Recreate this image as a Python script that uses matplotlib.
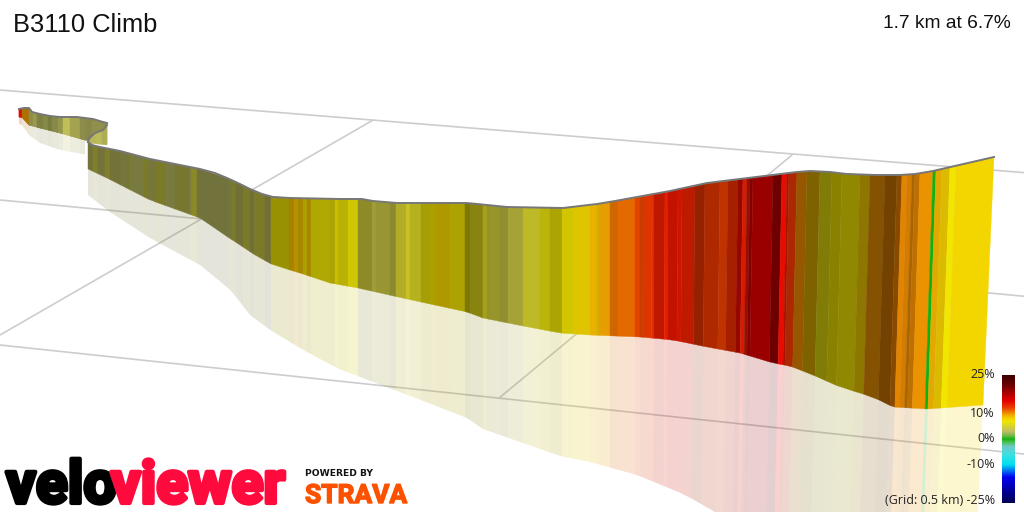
import numpy as np
import matplotlib
matplotlib.use("Agg")
import matplotlib.pyplot as plt
from matplotlib.colors import LinearSegmentedColormap
from matplotlib.collections import PolyCollection
import matplotlib.patheffects as pe

TITLE = "B3110 Climb"
SUMMARY = "1.7 km at 6.7%"
GRID_NOTE = "(Grid: 0.5 km)"
LEGEND_TICKS = [25, 10, 0, -10, -25]

# colour scale: gradient (%) -> colour
scale_pct = [-25, -20, -15, -10, -6, -3, -1, 0, 1, 3, 5, 7, 8.5, 10, 12, 15, 18, 21, 25]
scale_col = ["#000050", "#0000a0", "#0000f0", "#00e0f0", "#40e0e0", "#70c8c8", "#40c040",
             "#10b010", "#60b840", "#bebe64", "#d7d232", "#f0e600", "#f5c800", "#f09600",
             "#eb4600", "#e60000", "#aa0000", "#6e0000", "#3c0000"]

# outlines
far_top_x = [19, 24, 29, 32, 40, 50, 60, 77, 93, 103, 107]
far_top_y = [109, 108, 108, 112, 114, 116, 117, 117, 119, 122, 123]
far_bot_x = [19, 28, 29, 40, 60, 88, 107]
far_bot_y = [117, 118, 125, 128, 133, 141, 144]
far_ref_x = [19, 28, 29, 40, 60, 88]
far_ref_y = [124, 127, 135, 143, 150, 155]
far_edges = [19, 22, 29, 33, 37, 40, 43, 48, 52, 58, 63, 70, 80, 85, 92, 100, 107]
far_grad = [14, 9.8, 3, 3.2, 3, 2.8, 3, 2.8, 3, 3.1, 3.4, 3.2, 3, 3, 3, 3]
far_shade = [.9, .72, .75, .8, .68, .68, .72, .66, .72, .78, .98, .85, .74, .72, .76, .76]

ret_top_x = [88, 89, 95, 103, 107]
ret_top_y = [142, 138, 133, 130, 125]
ret_bot_x = [88, 107]
ret_bot_y = [143, 145]
ret_edges = [88, 96, 102, 107]
ret_grad = [3.2, 3.3, 3.2]
ret_shade = [.95, .97, .9]

main_top_x = [88, 92, 100, 120, 150, 200, 215, 227, 240, 250, 262, 273, 290, 340, 362, 373, 397, 467, 507,
              563, 580, 597, 615, 637, 670, 707, 797, 810, 830, 847, 875, 900, 915, 933, 994]
main_top_y = [142, 145, 147, 151, 159, 169, 173, 178, 184, 189, 194, 197, 198, 199, 199, 201, 203, 203, 207,
              208, 206, 204, 201, 197, 191, 183, 172, 171, 172, 174, 175, 175, 174, 171, 157]
main_bot_x = [88, 107, 150, 200, 217, 237, 255, 273, 300, 330, 358, 407, 467, 483, 523, 560, 590, 640, 673,
              707, 740, 773, 790, 813, 840, 873, 893, 927, 983]
main_bot_y = [169, 178, 200, 218, 230, 243, 255, 265, 273, 283, 288, 299, 312, 318, 326, 333, 335, 337, 340,
              347, 353, 363, 366, 375, 387, 397, 407, 409, 405]
main_ref_x = [88, 110, 150, 200, 220, 233, 250, 273, 307, 337, 373, 413, 467, 483, 520, 560, 590, 637, 687,
              717, 800, 1000]
main_ref_y = [195, 212, 238, 265, 280, 293, 315, 332, 352, 368, 382, 397, 418, 429, 442, 456, 462, 475, 495,
              512, 550, 630]
tilt_x = [640, 934, 994]
tilt_v = [0, 8, 11]

main_edges = [88, 93, 98, 105, 110, 121, 127, 130, 144, 148, 156, 165, 175, 190, 192, 197, 201, 228, 232,
              236, 243, 250, 254, 265, 271, 289, 294, 298, 303, 307, 311, 318, 330, 335, 338, 348, 358,
              372, 376, 390, 396, 406, 410, 421, 430, 436, 450, 465, 470, 483, 487, 490, 500, 508, 523,
              540, 550, 562, 573, 590, 597, 600, 610, 618, 635, 640, 643, 652, 654, 665, 668, 678, 682,
              695, 705, 720, 728, 738, 743, 747, 750, 753, 773, 782, 787, 789, 797, 807, 820, 832, 842,
              860, 870, 885, 897, 902, 907, 912, 915, 920, 933, 936, 942, 950, 956, 994]
main_grad = [3.2, 4.2, 3.2, 4.2, 3.2, 3, 3.8, 3, 4.2, 3.2, 4.2, 3, 3.8, 3, 4.6, 3.2, 3, 3, 4.2,
             3.2, 4.2, 3.2, 4.2, 3.2, 6.8, 8.7, 8.7, 8.5, 7.5, 8.5, 7, 6.8, 6.8, 7, 6.8, 6.8, 4.6,
             4, 4.2, 4.2, 5, 5.5, 5.5, 6.5, 7.5, 8, 7.2, 6.5, 6, 5.5, 5, 4.5, 4.2, 4.2, 5.2,
             6.5, 6.8, 7.2, 7.8, 8.8, 8.6, 9.5, 10.8, 11, 12, 12, 12.5, 13, 13.7, 13.7, 14, 14, 13.6,
             12.7, 12.6, 12.3, 13, 14.5, 13.7, 14, 15, 15, 15, 14.5, 14, 12.6, 10.3, 8.8, 6.5, 7.2, 7.2,
             8.3, 10, 10.3, 10.5, 10.2, 10.2, 10.2, 10.2, 10, 0, 9, 8.2, 7, 7.8]
main_shade = [.6, .62, .6, .62, .6, .62, .6, .64, .6, .62, .6, .64, .6, .68, .66, .6, .6, .62, .6,
              .58, .6, .58, .6, .58, .64, .68, .75, .68, .72, .68, .73, .74, .72, .83, .78, .87, .67,
              .78, .74, .68, .82, .9, .82, .7, .72, .72, .72, .53, .6, .75, .7, .72, .7, .8, .87,
              .8, .72, .87, .92, .95, .88, .95, .87, .96, .96, .85, .94, 1, .82, 1, .84, .9, .82,
              .64, .75, .81, .71, .65, .92, .65, .57, .67, .48, 1, .73, .73, .63, .52, .55, .57, .6,
              .58, .55, .48, .57, .94, .88, .71, .79, .98, 1, .93, .9, 1, 1]

GRID = "#cdcdd0"
OUT = "#777777"

cmap = LinearSegmentedColormap.from_list(
    "grad", [((p + 25) / 50, c) for p, c in zip(scale_pct, scale_col)], N=512)
to_col = lambda g, s: tuple(np.array(cmap((g + 25) / 50)[:3]) * min(s, 1))

plt.rcParams["font.family"] = ["Liberation Sans", "DejaVu Sans"]
fig = plt.figure(figsize=(10.24, 5.12), dpi=100)
ax = fig.add_axes([0, 0, 1, 1])
ax.set_xlim(0, 1024)
ax.set_ylim(512, 0)
ax.axis("off")

# ground grid
L1 = lambda x: 90 + 0.0807 * x
L2 = lambda x: 200 + 0.094 * x
L3 = lambda x: 345 + 0.1065 * x
for L in (L1, L2, L3):
    ax.plot([0, 1024], [L(0), L(1024)], color=GRID, lw=1.2, zorder=1)
ax.plot([0, 373], [335, L1(373)], color=GRID, lw=1.2, zorder=1)
ax.plot([499, 792], [L3(499), 155], color=GRID, lw=1.2, zorder=1)


def wall(edges, grad, shade, tx, ty, bx, by, rx=None, ry=None, tilt=False, z=2):
    e = np.array(edges, float)
    k = np.interp(e, tilt_x, tilt_v) if tilt else np.zeros_like(e)
    yt = np.interp(e, tx, ty)
    xb = e - k
    yb = np.interp(xb, bx, by)
    cols = [to_col(g, s) for g, s in zip(grad, shade)]
    if rx is not None:
        slope = k / np.maximum(yb - yt, 1) * 1.1
        yr = np.interp(xb, rx, ry)
        xr = xb - slope * (yr - yb)
        polys = [[(xb[i], yb[i]), (xb[i + 1], yb[i + 1]), (xr[i + 1], yr[i + 1]), (xr[i], yr[i])]
                 for i in range(len(cols))]
        ax.add_collection(PolyCollection(polys, facecolors=[c + (0.19,) for c in cols],
                                         edgecolors="none", zorder=z))
    polys = [[(e[i], yt[i]), (e[i + 1], yt[i + 1]), (xb[i + 1], yb[i + 1]), (xb[i], yb[i])]
             for i in range(len(cols))]
    ax.add_collection(PolyCollection(polys, facecolors=cols, edgecolors=cols, linewidths=0.3, zorder=z + 0.1))


wall(far_edges, far_grad, far_shade, far_top_x, far_top_y, far_bot_x, far_bot_y)
wall(far_edges[:-3], far_grad[:-3], far_shade[:-3], far_top_x, far_top_y, far_bot_x, far_bot_y, far_ref_x, far_ref_y)
ax.plot(far_top_x, far_top_y, color=OUT, lw=1.4, zorder=3)
wall(ret_edges, ret_grad, ret_shade, ret_top_x, ret_top_y, ret_bot_x, ret_bot_y, z=3.2)
ax.plot(ret_top_x, ret_top_y, color=OUT, lw=1.4, zorder=3.4)
wall(main_edges, main_grad, main_shade, main_top_x, main_top_y, main_bot_x, main_bot_y,
     main_ref_x, main_ref_y, tilt=True, z=4)
ax.plot(main_top_x, main_top_y, color=OUT, lw=1.4, zorder=5)

# texts
ax.text(13, 25.5, TITLE, fontsize=18.4, va="center", ha="left", color="#111111", zorder=8)
ax.text(1011, 23, SUMMARY, fontsize=13.8, va="center", ha="right", color="#111111", zorder=8)

# gradient legend
ax.imshow(np.linspace(25, -25, 256).reshape(-1, 1), cmap=cmap, vmin=-25, vmax=25, aspect="auto",
          extent=(1002, 1015, 503, 375), zorder=8)
ax.set_xlim(0, 1024)
ax.set_ylim(512, 0)
for t in LEGEND_TICKS:
    label = f"{t}%" if t != -25 else f"{GRID_NOTE} {t}%"
    ax.text(995, 439 - t * 2.56 if abs(t) < 25 else (375 if t > 0 else 501), label, fontsize=9.0,
            family=["Open Sans", "DejaVu Sans"], ha="right", va="center", color="#222222", zorder=8)

# logos
for word, x, ha, c in (("velo", 6, "left", "#000000"), ("viewer", 285, "right", "#ff0a3c")):
    ax.text(x, 503, word, fontsize=42.5, family=["Roboto", "DejaVu Sans"], weight="bold", color=c, ha=ha,
            va="baseline", zorder=8, path_effects=[pe.withStroke(linewidth=3, foreground=c)])
ax.text(305, 474, "POWERED BY", fontsize=6.6, family=["DejaVu Sans"], weight="bold", color="#111111",
        ha="left", va="center", zorder=8)
ax.text(305, 503, "STRAVA", fontsize=19, family=["Roboto", "DejaVu Sans"], weight="bold", color="#fc5200",
        ha="left", va="baseline", zorder=8, path_effects=[pe.withStroke(linewidth=1, foreground="#fc5200")])

fig.savefig("out.png", dpi=100)
